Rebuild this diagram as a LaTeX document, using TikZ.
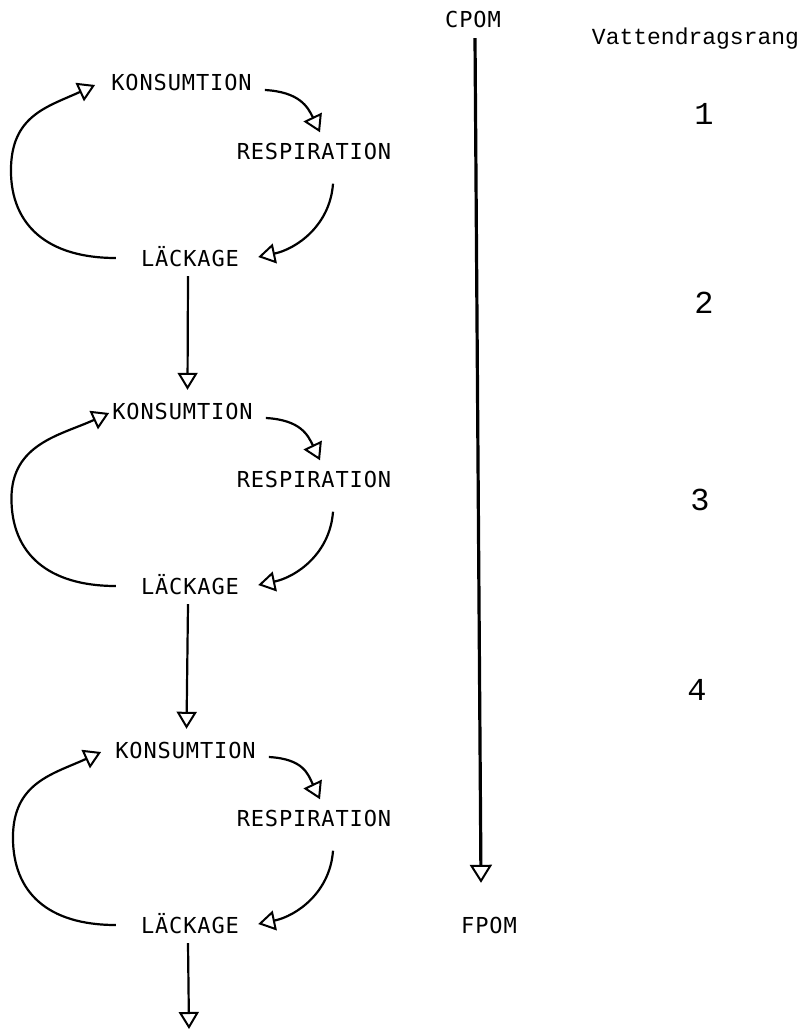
\documentclass[tikz,border=0pt]{standalone}
\usepackage{fontspec}
\newfontfamily\lblfont[LetterSpace=4]{DejaVu Sans Mono}
\newfontfamily\cfont{Liberation Mono}
\usetikzlibrary{arrows.meta,calc}
\begin{document}
\begin{tikzpicture}[x=1pt,y=-1pt,
  lbl/.style={inner sep=0pt, font={\lblfont\fontsize{22}{22}\selectfont}, text height=16pt, text depth=0pt},
  rank/.style={inner sep=0pt, anchor=base, font={\cfont\fontsize{32}{32}\selectfont}},
  flow/.style={line width=2.2pt, -{Triangle[open,length=17pt,width=20pt,line width=2pt]}},
  bigflow/.style={line width=3.2pt, -{Triangle[open,length=18pt,width=22pt,line width=2pt]}},
  ]
\useasboundingbox (0,0) rectangle (803,1032);

% cycles
\foreach \i/\dy/\dx/\gap in {1/0/0/16, 2/328/1/3, 3/667/4/14}{
  \node[lbl] (k\i) at (181.5+\dx,83+\dy) {KONSUMTION};
  \node[lbl] (r\i) at (314,151.5+\dy) {RESPIRATION};
  \node[lbl] (l\i) at (190,258+\dy) {LÄCKAGE};
  \draw[flow] ($(k\i.east)+(13,7)$) .. controls +(35,2) and +(-12,-25) .. ($(r\i.north)+(6,-11)$);
  \draw[flow] ($(r\i.south)+(19,24)$) .. controls +(-3,42) and +(38,-8) .. ($(l\i.east)+(19,-1)$);
  \draw[flow] ($(l\i.west)+(-25,0)$) .. controls +(-68,0) and +(0,55) .. ($(l\i.west)!0.5!(k\i.west)+(-115,0)$)
     .. controls +(0,-55) and +(-48,22) .. ($(k\i.west)+(-\gap,2)$);
}
\coordinate (end) at (189,1029);
\draw[flow] ($(l1.south)+(-2,10)$) -- ($(k2.north)+(5,-13)$);
\draw[flow] ($(l2.south)+(-2,10)$) -- ($(k3.north)+(1,-13)$);
\draw[flow] ($(l3.south)+(-2,10)$) -- (end);

% right part
\node[lbl] (cpom) at (473,20) {CPOM};
\node[lbl] (fpom) at (489,925) {FPOM};
\draw[bigflow] ($(cpom.south)+(2,10)$) -- ($(fpom.north)+(-8,-34)$);

\node[inner sep=0pt, anchor=base, font={\cfont\fontsize{23}{23}\selectfont}] (vr) at (695.5,45) {Vattendragsrang};
\node[rank] (n1) at (704,125) {1};
\node[rank] (n2) at (704,313) {2};
\node[rank] (n3) at (700,510) {3};
\node[rank] (n4) at (697,700) {4};
\end{tikzpicture}
\end{document}
